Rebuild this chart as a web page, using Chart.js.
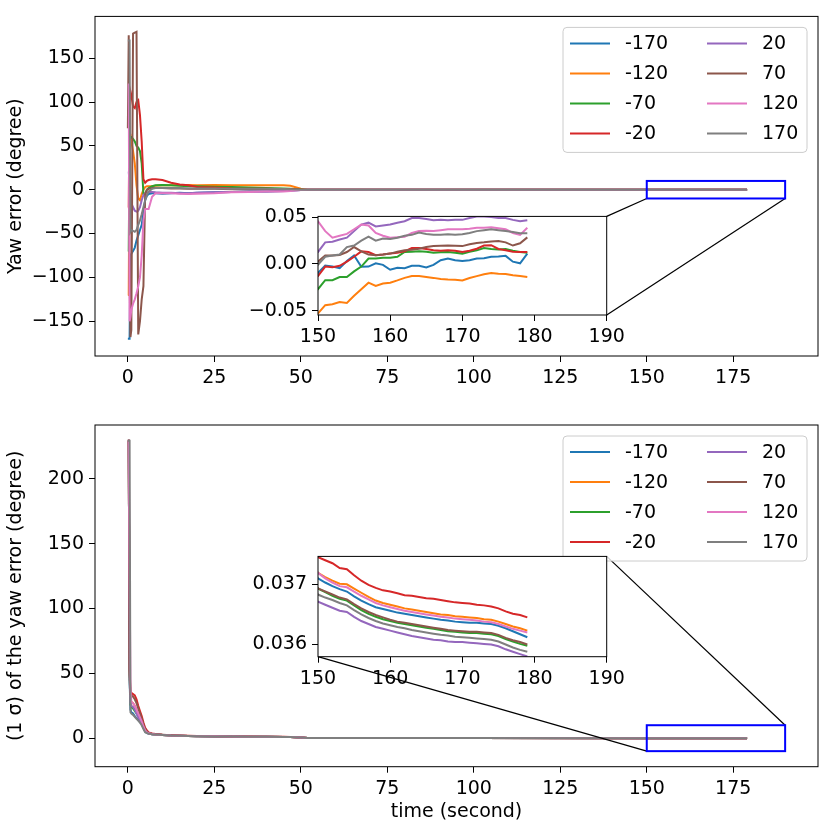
<!DOCTYPE html>
<html>
<head>
<meta charset="utf-8">
<script src="https://cdn.jsdelivr.net/npm/chart.js@4.4.0/dist/chart.umd.min.js"></script>
<style>
  body { margin: 0; background: #fff; }
  #wrap { position: relative; width: 830px; height: 831px; }
  #wrap canvas { position: absolute; }
</style>
</head>
<body>
<div id="wrap">
  <canvas id="yawChart" width="830" height="400" style="left:0;top:0"></canvas>
  <canvas id="sigmaChart" width="830" height="431" style="left:0;top:400px"></canvas>
  <canvas id="yawInset" width="400" height="150" style="left:230px;top:200px"></canvas>
  <canvas id="sigmaInset" width="400" height="160" style="left:230px;top:540px"></canvas>
</div>
<script>
Chart.defaults.font.family = "'DejaVu Sans', sans-serif";
Chart.defaults.font.size = 19;
Chart.defaults.color = '#000';
Chart.defaults.animation = false;

// time stamps (s): dense at start, then every second in the zoomed window
const time = [0, 0.25, 0.5, 0.75, 1, 1.5, 2, 2.5, 3, 3.5, 4, 4.5, 5, 5.5, 6, 7, 8, 10, 12.5, 15, 17.5, 20, 25, 30, 35, 40, 45, 47, 50, 52, 60, 100,
  150, 151, 152, 153, 154, 155, 156, 157, 158, 159, 160, 161, 162, 163, 164, 165, 166, 167, 168, 169, 170, 171, 172, 173, 174, 175, 176, 177, 178, 179];

const labels = ['-170', '-120', '-70', '-20', '20', '70', '120', '170'];
const colors = ['#1f77b4', '#ff7f0e', '#2ca02c', '#d62728', '#9467bd', '#8c564b', '#e377c2', '#7f7f7f'];

// yaw error (degree)
const yawN170 = [-170, -170, -170, -75, -73, -70, -66, -58, -52, -46, -40, -25, -12, -7, -5, -4, -4, -4.5, -4, -3.5, -4, -3.5, -3, -2.5, -2, -2, -1.5, -1, -0.3, 0, 0, 0,
  -0.0097, -0.0017, -0.0028, -0.0045, 0.003, 0.009, -0.003, -0.0028, 0.0007, -0.001, -0.0062, -0.004, -0.0045, -0.002, -0.002, -0.0038, -0.001, 0.004, 0.0058, 0.004, 0.003, 0.004, 0.0058, 0.006, 0.0076, 0.008, 0.0086, 0.0024, 0.0007, 0.011];
const yawN120 = [-120, -120, 65, 63, 55, 44, 30, 5, -10, -12, -5, 0, 3, 4, 4, 4, 4.5, 5, 5, 5, 5.5, 5, 5.5, 5, 5, 5, 5, 4.5, 1, 0, 0, 0,
  -0.0528, -0.044, -0.043, -0.0407, -0.0417, -0.034, -0.027, -0.020, -0.0235, -0.021, -0.020, -0.0176, -0.0149, -0.013, -0.013, -0.014, -0.0149, -0.016, -0.0166, -0.017, -0.0176, -0.015, -0.013, -0.011, -0.0097, -0.0105, -0.0107, -0.012, -0.013, -0.014];
const yawN70 = [-70, -70, 55, 60, 60, 58, 55, 50, 48, 44, 30, -5, -5, 0, 2, 4, 5, 5.5, 5, 4.5, 4, 4, 3.5, 3, 2.5, 2, 1.5, 1, 0.3, 0, 0, 0,
  -0.027, -0.0173, -0.0173, -0.014, -0.014, -0.008, -0.0028, 0.0058, 0.0058, 0.0065, 0.0065, 0.0076, 0.0127, 0.013, 0.0134, 0.013, 0.012, 0.0125, 0.0127, 0.012, 0.011, 0.013, 0.0145, 0.017, 0.016, 0.0155, 0.016, 0.014, 0.0127, 0.012];
const yawN20 = [-20, -20, 100, 112, 108, 95, 93, 100, 102, 85, 55, 12, 8, 10, 11, 12, 12, 11, 8, 6, 5, 3, 2.5, 1.5, 1, 1, 0.5, 0.5, 0, 0, 0, 0,
  -0.013, -0.0028, -0.0035, -0.002, 0.0024, 0.0076, 0.0134, 0.0127, 0.0093, 0.010, 0.011, 0.012, 0.0134, 0.017, 0.017, 0.016, 0.0145, 0.014, 0.0145, 0.014, 0.0127, 0.014, 0.0162, 0.0196, 0.020, 0.016, 0.0145, 0.013, 0.0127, 0.0127];
const yawP20 = [20, 20, 10, -5, -15, -20, -24, -25, -24, -20, -12, -6, -4, -3, -2.5, -2.5, -3, -3.5, -3.5, -4, -4, -3.5, -3, -2.5, -2, -2, -1.5, -1, -0.3, 0, 0, 0,
  0.0127, 0.023, 0.0237, 0.026, 0.028, 0.035, 0.042, 0.044, 0.040, 0.041, 0.042, 0.044, 0.0455, 0.049, 0.049, 0.048, 0.0465, 0.047, 0.0465, 0.047, 0.047, 0.049, 0.0505, 0.0505, 0.05, 0.049, 0.049, 0.047, 0.0455, 0.0465];
const yawP70 = [70, 176, -100, -168, -160, 178, 179, 180, -165, -150, -125, -110, -5, 0, 1, 2, 2, 2, 1.5, 1.5, 1, 1, 1, 0.5, 0.5, 0.5, 0.5, 0.3, 0, 0, 0, 0,
  0.0024, 0.009, 0.009, 0.0095, 0.0127, 0.018, 0.0134, 0.010, 0.0093, 0.0100, 0.011, 0.013, 0.0145, 0.015, 0.0162, 0.018, 0.019, 0.0195, 0.0196, 0.0195, 0.019, 0.021, 0.0224, 0.023, 0.024, 0.0245, 0.023, 0.0196, 0.022, 0.0283];
const yawP120 = [120, 120, -150, -145, -137, -130, -125, -118, -110, -100, -75, -35, -22, -22, -22, -8, -4, -4, -4, -4.5, -5, -4.5, -4, -3, -2.5, -2, -2, -1.5, -0.3, 0, 0, 0,
  0.0455, 0.035, 0.028, 0.030, 0.032, 0.037, 0.042, 0.041, 0.033, 0.030, 0.028, 0.0285, 0.029, 0.033, 0.035, 0.0355, 0.035, 0.036, 0.037, 0.037, 0.037, 0.0375, 0.0385, 0.0385, 0.039, 0.038, 0.037, 0.033, 0.031, 0.0385];
const yawP170 = [170, 170, 170, -48, -46, -47, -48, -46, -40, -35, -28, -20, -12, -6, -2, 1, 2, 2, 2, 2, 1.5, 1.5, 1.5, 1, 1, 1, 0.8, 0.5, 0, 0, 0, 0,
  -0.001, 0.0076, 0.009, 0.010, 0.018, 0.0196, 0.0248, 0.029, 0.0248, 0.027, 0.0265, 0.028, 0.030, 0.031, 0.0334, 0.032, 0.031, 0.031, 0.0317, 0.031, 0.0317, 0.033, 0.035, 0.036, 0.037, 0.036, 0.035, 0.034, 0.0327, 0.0327];

// 1 sigma of the yaw error (degree)
const sigN170 = [229.5, 229.5, 45, 22, 20, 19, 17, 15.5, 14, 12.5, 11, 8, 5, 4, 3.5, 3, 2.8, 2.4, 2, 1.8, 1.6, 1.5, 1.35, 1.25, 1.15, 1.1, 1.0, 0.95, 0.5, 0.1, 0.06, 0.045,
  0.03710, 0.03703, 0.03697, 0.03692, 0.03688, 0.03680, 0.03673, 0.03667, 0.03662, 0.03659, 0.03656, 0.03653, 0.03651, 0.03649, 0.03647, 0.03645, 0.03643, 0.03641, 0.03640, 0.03638, 0.03637, 0.03636, 0.03636, 0.03635, 0.03634, 0.03631, 0.03627, 0.03622, 0.03617, 0.03612];
const sigN120 = [229.5, 229.5, 50, 30, 28, 27, 25, 22, 19, 16, 13, 9, 6, 4.5, 3.8, 3.2, 2.9, 2.5, 2.1, 1.9, 1.7, 1.55, 1.4, 1.3, 1.2, 1.1, 1.0, 0.95, 0.5, 0.1, 0.06, 0.045,
  0.03719, 0.03712, 0.03706, 0.03701, 0.03700, 0.03693, 0.03686, 0.03679, 0.03673, 0.03669, 0.03666, 0.03663, 0.03660, 0.03658, 0.03656, 0.03654, 0.03652, 0.03650, 0.03649, 0.03647, 0.03646, 0.03645, 0.03644, 0.03642, 0.03641, 0.03638, 0.03634, 0.03630, 0.03627, 0.03623];
const sigN70 = [229.5, 229.5, 48, 26, 24, 23, 21, 19, 17, 14.5, 12, 8.5, 5.5, 4.2, 3.6, 3.1, 2.8, 2.4, 2, 1.8, 1.6, 1.5, 1.35, 1.25, 1.15, 1.1, 1.0, 0.95, 0.5, 0.1, 0.06, 0.045,
  0.03693, 0.03687, 0.03681, 0.03676, 0.03673, 0.03665, 0.03657, 0.03651, 0.03646, 0.03642, 0.03639, 0.03636, 0.03634, 0.03632, 0.03630, 0.03628, 0.03626, 0.03624, 0.03622, 0.03621, 0.03620, 0.03619, 0.03619, 0.03618, 0.03617, 0.03614, 0.03609, 0.03605, 0.03601, 0.03598];
const sigN20 = [229.5, 229.5, 55, 36, 35, 34, 33, 30, 25, 21, 17, 12, 8, 6, 4.5, 3.6, 3.2, 2.7, 2.3, 2.0, 1.8, 1.65, 1.5, 1.35, 1.25, 1.15, 1.05, 1.0, 0.55, 0.1, 0.06, 0.045,
  0.03745, 0.03740, 0.03735, 0.03727, 0.03725, 0.03715, 0.03706, 0.03699, 0.03694, 0.03690, 0.03688, 0.03685, 0.03682, 0.03681, 0.03679, 0.03677, 0.03676, 0.03674, 0.03672, 0.03670, 0.03669, 0.03668, 0.03666, 0.03665, 0.03663, 0.03660, 0.03655, 0.03651, 0.03649, 0.03645];
const sigP20 = [229.5, 229.5, 46, 27, 25, 24, 22, 19, 16, 14, 12, 8.5, 5.5, 4.2, 3.6, 3.1, 2.8, 2.4, 2, 1.8, 1.6, 1.5, 1.35, 1.25, 1.15, 1.1, 1.0, 0.95, 0.5, 0.1, 0.06, 0.045,
  0.03671, 0.03666, 0.03661, 0.03656, 0.03654, 0.03646, 0.03639, 0.03634, 0.03629, 0.03626, 0.03623, 0.03620, 0.03617, 0.03614, 0.03612, 0.03610, 0.03608, 0.03607, 0.03605, 0.03604, 0.03604, 0.03603, 0.03602, 0.03601, 0.03600, 0.03597, 0.03592, 0.03588, 0.03584, 0.03580];
const sigP70 = [229.5, 229.5, 52, 34, 33, 32, 30, 27, 23, 19, 15, 10.5, 7, 5, 4, 3.4, 3, 2.6, 2.2, 1.9, 1.7, 1.6, 1.45, 1.3, 1.2, 1.1, 1.0, 0.95, 0.5, 0.1, 0.06, 0.045,
  0.03693, 0.03688, 0.03683, 0.03678, 0.03675, 0.03667, 0.03660, 0.03654, 0.03649, 0.03645, 0.03641, 0.03638, 0.03636, 0.03634, 0.03632, 0.03630, 0.03628, 0.03626, 0.03624, 0.03623, 0.03622, 0.03621, 0.03621, 0.03620, 0.03619, 0.03616, 0.03611, 0.03607, 0.03604, 0.03600];
const sigP120 = [229.5, 229.5, 130, 40, 28, 27, 25, 22, 19, 16, 13, 9, 6, 4.5, 3.8, 3.2, 2.9, 2.5, 2.1, 1.9, 1.7, 1.55, 1.4, 1.3, 1.2, 1.1, 1.0, 0.95, 0.5, 0.1, 0.06, 0.045,
  0.03719, 0.03710, 0.03703, 0.03697, 0.03695, 0.03688, 0.03681, 0.03675, 0.03669, 0.03665, 0.03662, 0.03659, 0.03656, 0.03654, 0.03652, 0.03650, 0.03648, 0.03646, 0.03645, 0.03643, 0.03642, 0.03641, 0.03640, 0.03638, 0.03637, 0.03634, 0.03630, 0.03626, 0.03623, 0.03620];
const sigP170 = [229.5, 229.5, 229.5, 20, 19, 18, 16.5, 15, 13.6, 12, 10, 7, 4.6, 4, 3.5, 3, 2.8, 2.4, 2, 1.8, 1.6, 1.5, 1.35, 1.25, 1.15, 1.1, 1.0, 0.95, 0.5, 0.1, 0.06, 0.045,
  0.03683, 0.03678, 0.03674, 0.03669, 0.03665, 0.03657, 0.03650, 0.03644, 0.03639, 0.03635, 0.03632, 0.03629, 0.03627, 0.03624, 0.03622, 0.03620, 0.03618, 0.03616, 0.03615, 0.03613, 0.03612, 0.03611, 0.03610, 0.03609, 0.03608, 0.03605, 0.03600, 0.03595, 0.03591, 0.03588];

const timeTicks = [0, 25, 50, 75, 100, 125, 150, 175];
const yawTicks = [-150, -100, -50, 0, 50, 100, 150];
const sigmaTicks = [0, 50, 100, 150, 200];
const insetTimeTicks = [150, 160, 170, 180, 190];
const yawInsetTicks = [-0.05, 0, 0.05];
const sigmaInsetTicks = [0.036, 0.037];
// zoomed region: [t from, t to, value from, value to]
const zoomBox = [150, 190, -10, 10];

const yawSeries = [yawN170, yawN120, yawN70, yawN20, yawP20, yawP70, yawP120, yawP170];
const sigmaSeries = [sigN170, sigN120, sigN70, sigN20, sigP20, sigP70, sigP120, sigP170];

function makeDatasets(series) {
  return series.map((vals, i) => ({
    label: labels[i],
    data: vals.map((v, j) => ({ x: time[j], y: v })),
    borderColor: colors[i],
    backgroundColor: colors[i],
    borderWidth: 2,
    pointRadius: 0,
    tension: 0,
    order: series.length - 1 - i   // later series drawn on top
  }));
}

function minusLabel(v) {
  return v < 0 ? '\u2212' + Math.abs(v) : String(v);
}

function axis(min, max, ticks, fmt, size, horizontal, title) {
  const a = {
    type: 'linear',
    min: min,
    max: max,
    afterBuildTicks: s => { s.ticks = ticks.map(v => ({ value: v })); },
    afterFit: s => { if (horizontal) s.height = size; else s.width = size; },
    ticks: { callback: fmt, padding: 5, autoSkip: false, maxRotation: 0, font: { size: 19 } },
    grid: { drawOnChartArea: false, drawTicks: true, tickLength: 6, color: '#000' },
    border: { display: false }
  };
  if (title) {
    a.title = { display: true, text: title, font: { size: 19 },
      padding: horizontal ? { top: 0, bottom: 8 } : { top: 5, bottom: 0 } };
  }
  return a;
}

// axes frame, optional white face
const frame = {
  id: 'frame',
  beforeDraw(chart, args, opts) {
    if (!opts.fill) return;
    const a = chart.chartArea, ctx = chart.ctx;
    ctx.save();
    ctx.fillStyle = opts.fill;
    ctx.fillRect(a.left, a.top, a.right - a.left, a.bottom - a.top);
    ctx.restore();
  },
  afterDraw(chart) {
    const a = chart.chartArea, ctx = chart.ctx;
    ctx.save();
    ctx.strokeStyle = '#000';
    ctx.lineWidth = 1;
    ctx.strokeRect(a.left, a.top, a.right - a.left, a.bottom - a.top);
    ctx.restore();
  }
};

// two-column legend in the upper right corner
const columnLegend = {
  id: 'columnLegend',
  afterDraw(chart) {
    const ctx = chart.ctx, a = chart.chartArea;
    const sets = chart.data.datasets;
    const rows = Math.ceil(sets.length / 2);
    const w = 244, h = 125;
    const left = a.right - 11 - w, top = a.top + 11;
    ctx.save();
    ctx.beginPath();
    ctx.roundRect(left, top, w, h, 4);
    ctx.fillStyle = 'rgba(255,255,255,0.8)';
    ctx.fill();
    ctx.strokeStyle = '#cccccc';
    ctx.lineWidth = 1;
    ctx.stroke();
    ctx.font = "19px 'DejaVu Sans'";
    ctx.textBaseline = 'middle';
    ctx.fillStyle = '#000';
    sets.forEach((ds, i) => {
      const col = Math.floor(i / rows), row = i % rows;
      const x = left + 7 + col * 137, y = top + 16 + row * 30;
      ctx.beginPath();
      ctx.moveTo(x, y);
      ctx.lineTo(x + 40, y);
      ctx.strokeStyle = ds.borderColor;
      ctx.lineWidth = 2;
      ctx.stroke();
      ctx.fillText(ds.label, x + 55, y + 1);
    });
    ctx.restore();
  }
};

// blue rectangle on the zoomed region and the lines to the inset
const insets = {};
const zoomMark = {
  id: 'zoomMark',
  afterDatasetsDraw(chart) {
    const link = insets[chart.canvas.id];
    if (!link) return;
    const xs = chart.scales.x, ys = chart.scales.y, ctx = chart.ctx;
    const box = {
      left: xs.getPixelForValue(zoomBox[0]), right: xs.getPixelForValue(zoomBox[1]),
      bottom: ys.getPixelForValue(zoomBox[2]), top: ys.getPixelForValue(zoomBox[3])
    };
    const ic = link.chart, ia = ic.chartArea;
    const dx = ic.canvas.offsetLeft - chart.canvas.offsetLeft;
    const dy = ic.canvas.offsetTop - chart.canvas.offsetTop;
    ctx.save();
    ctx.strokeStyle = '#000';
    ctx.lineWidth = 1.2;
    link.corners.forEach(c => {
      ctx.beginPath();
      ctx.moveTo(ia[c[0]] + dx, ia[c[1]] + dy);
      ctx.lineTo(box[c[2]], box[c[3]]);
      ctx.stroke();
    });
    ctx.strokeStyle = '#0000ff';
    ctx.lineWidth = 2;
    ctx.strokeRect(box.left, box.top, box.right - box.left, box.bottom - box.top);
    ctx.restore();
  }
};

function insetChart(id, series, yMin, yMax, yTicks, digits, pad, xHeight) {
  return new Chart(document.getElementById(id), {
    type: 'line',
    data: { datasets: makeDatasets(series) },
    options: {
      responsive: false,
      layout: { padding: { top: pad, right: 23.3, left: 0, bottom: 0 } },
      plugins: { legend: { display: false }, tooltip: { enabled: false }, frame: { fill: '#fff' } },
      scales: {
        x: axis(150, 190, insetTimeTicks, v => String(v), xHeight, true),
        y: axis(yMin, yMax, yTicks, v => (v < 0 ? '\u2212' : '') + Math.abs(v).toFixed(digits), 88, false)
      }
    },
    plugins: [frame]
  });
}

insets.yawChart = {
  chart: insetChart('yawInset', yawSeries, -0.0545, 0.0507, yawInsetTicks, 2, 13.3, 35),
  corners: [['right', 'top', 'left', 'bottom'], ['right', 'bottom', 'right', 'bottom']]
};
insets.sigmaChart = {
  chart: insetChart('sigmaInset', sigmaSeries, 0.035797, 0.037464, sigmaInsetTicks, 3, 15, 43.3),
  corners: [['right', 'top', 'right', 'top'], ['left', 'bottom', 'left', 'bottom']]
};

new Chart(document.getElementById('yawChart'), {
  type: 'line',
  data: { datasets: makeDatasets(yawSeries) },
  options: {
    responsive: false,
    layout: { padding: { top: 14, right: 12, left: 0, bottom: 0 } },
    plugins: { legend: { display: false }, tooltip: { enabled: false } },
    scales: {
      x: axis(-9.5, 199.5, timeTicks, minusLabel, 44, true),
      y: axis(-189.6, 197.6, yawTicks, minusLabel, 95, false, 'Yaw error (degree)')
    }
  },
  plugins: [frame, zoomMark, columnLegend]
});

new Chart(document.getElementById('sigmaChart'), {
  type: 'line',
  data: { datasets: makeDatasets(sigmaSeries) },
  options: {
    responsive: false,
    layout: { padding: { top: 25, right: 12, left: 0, bottom: 0 } },
    plugins: { legend: { display: false }, tooltip: { enabled: false } },
    scales: {
      x: axis(-9.5, 199.5, timeTicks, minusLabel, 64.3, true, 'time (second)'),
      y: axis(-22, 241.6, sigmaTicks, minusLabel, 95, false, '(1 \u03c3) of the yaw error (degree)')
    }
  },
  plugins: [frame, zoomMark, columnLegend]
});
</script>
</body>
</html>
